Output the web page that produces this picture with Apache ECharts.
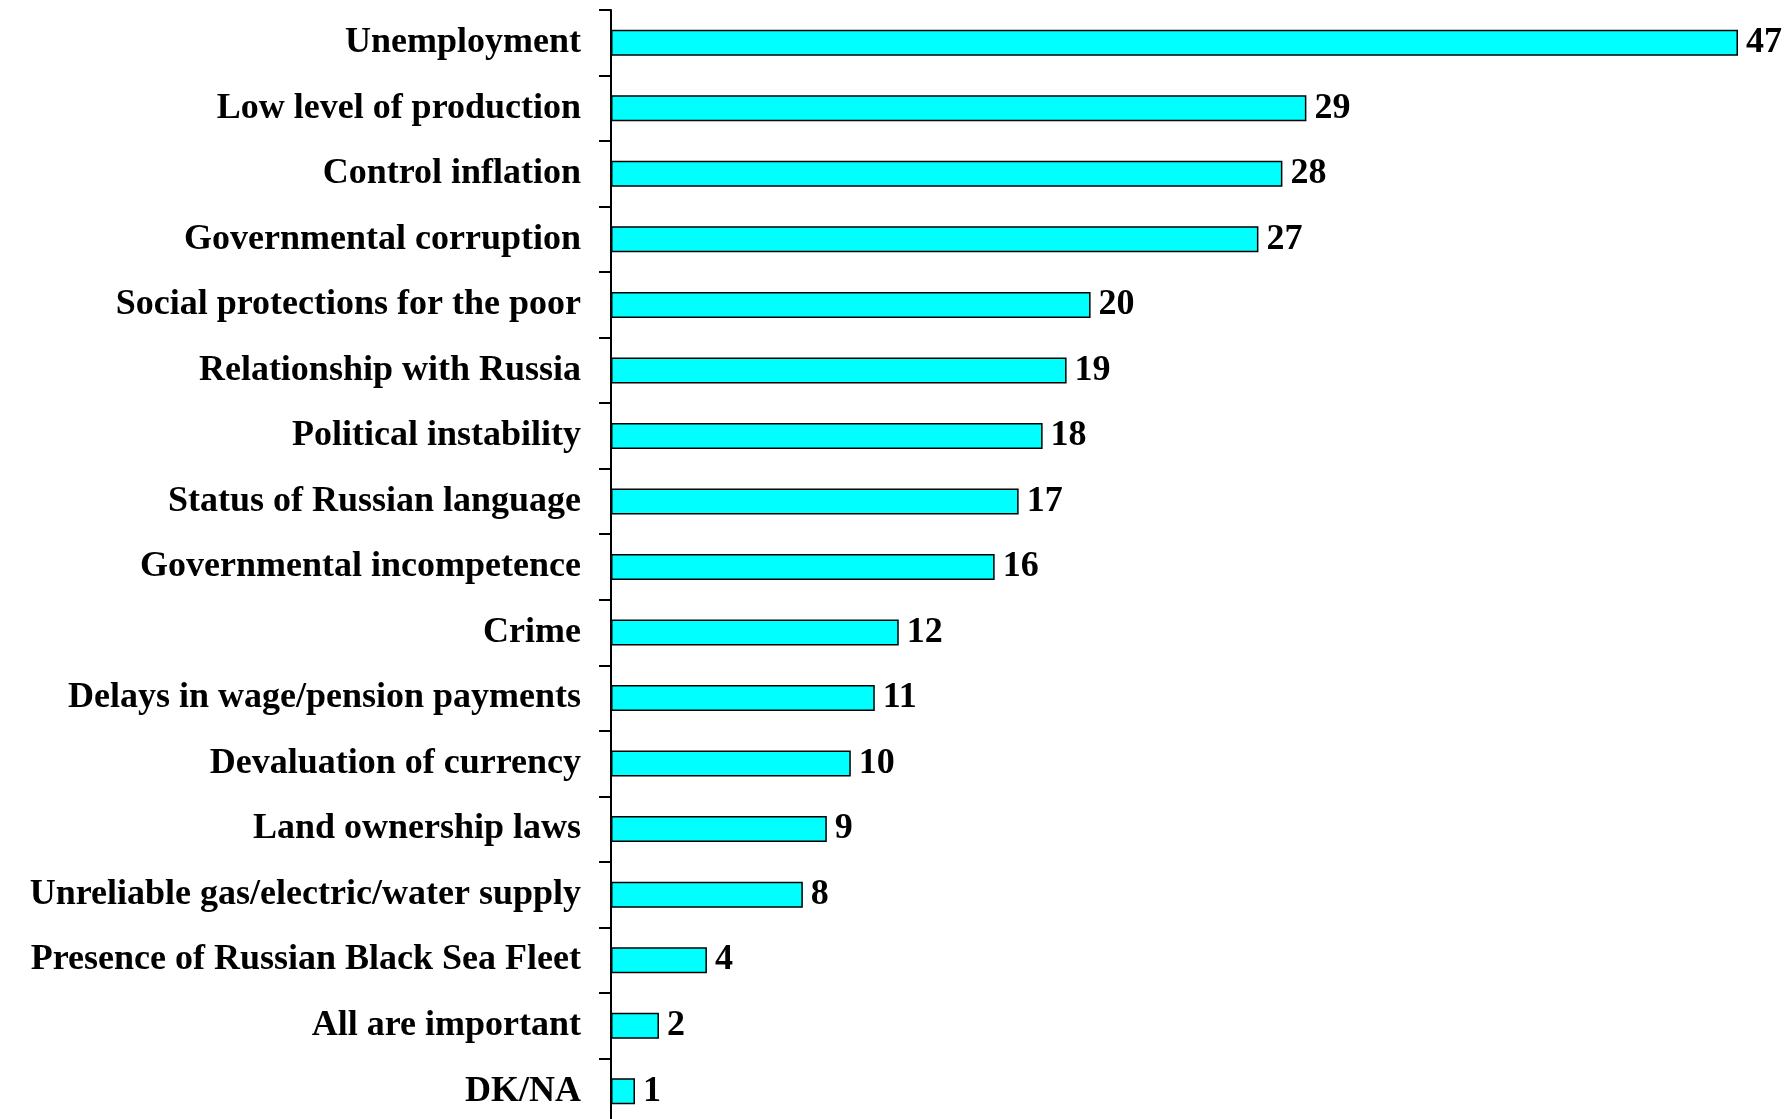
<!DOCTYPE html>
<html>
<head>
<meta charset="utf-8">
<script src="https://cdn.jsdelivr.net/npm/echarts@6/dist/echarts.min.js"></script>
<style>
  html, body { margin: 0; padding: 0; background: #fff; }
  #chart { width: 1785px; height: 1119px; }
</style>
</head>
<body>
<div id="chart"></div>
<script>
// categories, top to bottom
const categories = [
  "Unemployment",
  "Low level of production",
  "Control inflation",
  "Governmental corruption",
  "Social protections for the poor",
  "Relationship with Russia",
  "Political instability",
  "Status of Russian language",
  "Governmental incompetence",
  "Crime",
  "Delays in wage/pension payments",
  "Devaluation of currency",
  "Land ownership laws",
  "Unreliable gas/electric/water supply",
  "Presence of Russian Black Sea Fleet",
  "All are important",
  "DK/NA"
];
const values = [47, 29, 28, 27, 20, 19, 18, 17, 16, 12, 11, 10, 9, 8, 4, 2, 1];

const font = "'Liberation Serif', 'Times New Roman', serif";

const chart = echarts.init(document.getElementById("chart"));
chart.setOption({
  animation: false,
  backgroundColor: "#ffffff",
  grid: {
    left: 611,
    top: 10,
    width: 1127,
    height: 1114,
    containLabel: false,
    outerBoundsMode: "none"
  },
  xAxis: {
    type: "value",
    min: 0,
    max: 47,
    show: false
  },
  yAxis: {
    type: "category",
    inverse: true,
    data: categories,
    axisLine: { show: true, lineStyle: { color: "#000", width: 2 } },
    axisTick: {
      show: true,
      inside: false,
      length: 12,
      lineStyle: { color: "#000", width: 2 }
    },
    axisLabel: {
      margin: 30,
      color: "#000",
      fontFamily: font,
      fontWeight: "bold",
      fontSize: 36
    },
    splitLine: { show: false }
  },
  series: [
    {
      type: "bar",
      data: values,
      barWidth: 26,
      itemStyle: {
        color: "#00ffff",
        borderColor: "#000",
        borderWidth: 1.5
      },
      label: {
        show: true,
        position: "right",
        distance: 8,
        color: "#000",
        fontFamily: font,
        fontWeight: "bold",
        fontSize: 36
      }
    }
  ]
});
</script>
</body>
</html>
